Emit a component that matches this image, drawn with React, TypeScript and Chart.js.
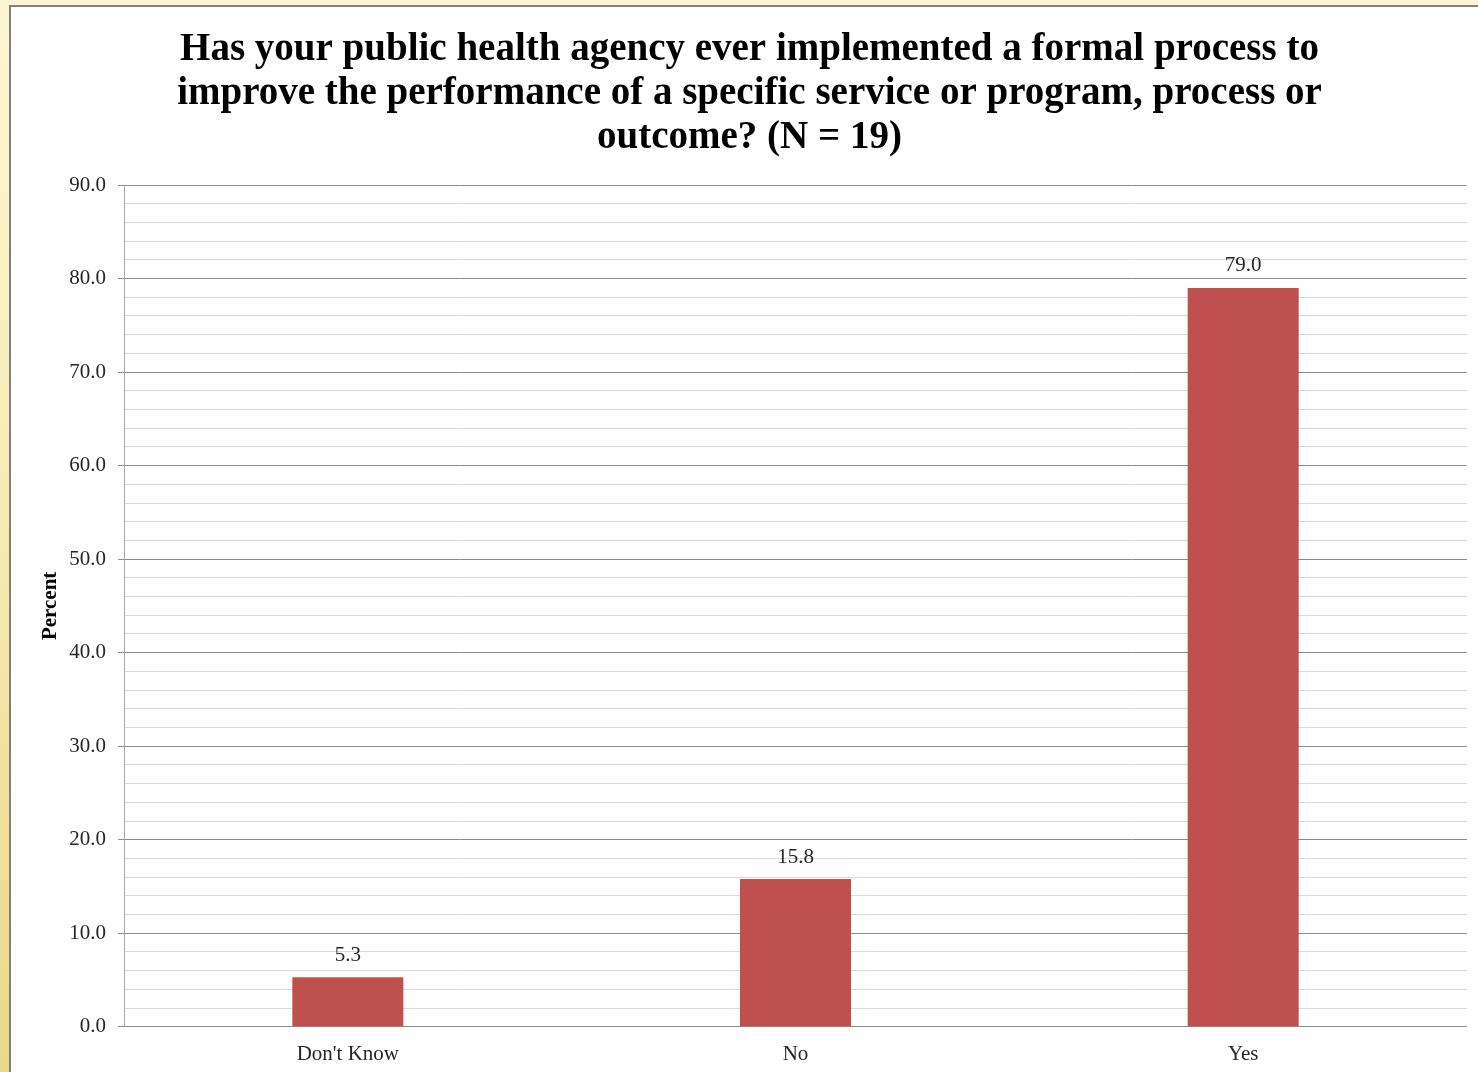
import React, { useEffect, useRef } from "react";
import { Chart, registerables } from "chart.js";

Chart.register(...registerables);

const categories = ["Don't Know", "No", "Yes"];
const percentValues = [5.3, 15.8, 79.0];
const titleLines = [
  "Has your public health agency ever implemented a formal process to",
  "improve the performance of a specific service or program, process or",
  "outcome? (N = 19)",
];
const yAxisTitle = "Percent";
const yMin = 0;
const yMax = 90;
const yStep = 2;

const SERIF = "'Liberation Serif', 'Times New Roman', serif";
const TITLE_SIZE = 39;
const TITLE_LH = 44;

const valueLabelPlugin = {
  id: "valueLabels",
  afterDatasetsDraw(chart: any) {
    const ctx = chart.ctx;
    const meta = chart.getDatasetMeta(0);
    ctx.save();
    ctx.font = `21px ${SERIF}`;
    ctx.fillStyle = "#262626";
    ctx.textAlign = "center";
    ctx.textBaseline = "middle";
    meta.data.forEach((bar: any, i: number) => {
      const v = chart.data.datasets[0].data[i];
      ctx.fillText(Number(v).toFixed(1), bar.x, bar.y - 22);
    });
    ctx.restore();
  },
};

// Draws the title (the built-in title is kept transparent to reserve its space)
const titleDrawPlugin = {
  id: "titleDraw",
  afterDraw(chart: any) {
    const ctx = chart.ctx;
    const box = chart.titleBlock;
    if (!box) return;
    ctx.save();
    ctx.font = `bold ${TITLE_SIZE}px ${SERIF}`;
    ctx.fillStyle = "#000";
    ctx.textAlign = "center";
    ctx.textBaseline = "middle";
    const cx = chart.width / 2 + 5;
    const top = box.top + 21;
    titleLines.forEach((line, i) => {
      ctx.fillText(line, cx, top + TITLE_LH / 2 + i * TITLE_LH);
    });
    ctx.restore();
  },
};

export default function App() {
  const canvasRef = useRef<HTMLCanvasElement>(null);

  useEffect(() => {
    if (!canvasRef.current) return;
    const chart = new Chart(canvasRef.current, {
      type: "bar",
      data: {
        labels: categories,
        datasets: [
          {
            data: percentValues,
            backgroundColor: "#C0504D",
            borderWidth: 0,
            categoryPercentage: 1,
            barPercentage: 0.248,
          },
        ],
      },
      options: {
        animation: false,
        responsive: false,
        maintainAspectRatio: false,
        layout: { padding: { left: 0, right: 11, top: 0, bottom: -10 } },
        plugins: {
          legend: { display: false },
          tooltip: { enabled: false },
          title: {
            display: true,
            text: titleLines,
            color: "rgba(0,0,0,0)",
            font: { family: SERIF, size: TITLE_SIZE, weight: "bold", lineHeight: TITLE_LH / TITLE_SIZE },
            padding: { top: 21, bottom: 25 },
          },
        },
        scales: {
          x: {
            grid: { display: false, drawTicks: false },
            border: { display: false },
            ticks: {
              color: "#262626",
              font: { family: SERIF, size: 21 },
              padding: 15,
              maxRotation: 0,
            },
          },
          y: {
            min: yMin,
            max: yMax,
            afterFit: (scale: any) => {
              scale.width = 113;
            },
            border: { display: true, color: "#a6a6a6", width: 1 },
            grid: {
              color: (c: any) =>
                c.tick && Math.round(c.tick.value) % 10 === 0 ? "#8c8c8c" : "#d9d9d9",
              tickColor: (c: any) =>
                c.tick && Math.round(c.tick.value) % 10 === 0 ? "#8c8c8c" : "rgba(0,0,0,0)",
              tickLength: 6,
              lineWidth: 1,
            },
            ticks: {
              stepSize: yStep,
              autoSkip: false,
              padding: 12,
              color: "#262626",
              font: { family: SERIF, size: 21 },
              callback: (v: any) => (Math.round(Number(v)) % 10 === 0 ? Number(v).toFixed(1) : ""),
            },
            title: {
              display: true,
              text: yAxisTitle,
              color: "#000",
              font: { family: SERIF, size: 21, weight: "bold", lineHeight: 1.2 },
              padding: { top: 27, bottom: 0 },
            },
          },
        },
      },
      plugins: [valueLabelPlugin, titleDrawPlugin],
    });
    return () => chart.destroy();
  }, []);

  return (
    <div
      style={{
        position: "fixed",
        left: 0,
        top: 0,
        width: 1478,
        height: 1072,
        overflow: "hidden",
        background: "linear-gradient(to bottom, #fdf6d4 0%, #f6eab0 50%, #e8d88a 100%)",
      }}
    >
      <div
        style={{
          position: "absolute",
          left: 9,
          top: 5,
          width: 1469,
          height: 1067,
          background: "#fff",
          borderLeft: "2px solid #808080",
          borderTop: "2px solid #808080",
          boxSizing: "border-box",
        }}
      >
        <canvas
          ref={canvasRef}
          width={1467}
          height={1065}
          style={{ display: "block", width: 1467, height: 1065 }}
        />
      </div>
    </div>
  );
}
